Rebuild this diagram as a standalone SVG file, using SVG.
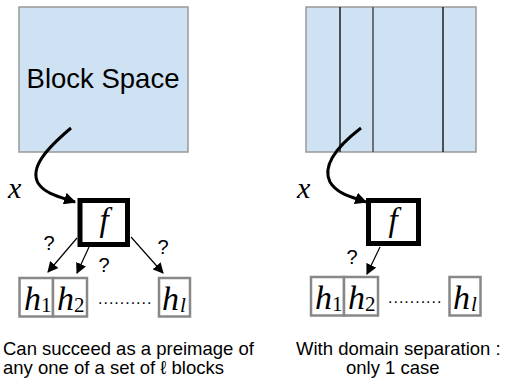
<svg xmlns="http://www.w3.org/2000/svg" width="508" height="380" viewBox="0 0 508 380">
  <style>
    .space { fill: #cfe2f3; stroke: #999999; stroke-width: 1.5; }
    .div { stroke: #000; stroke-width: 1.3; }
    .fbox { fill: #fff; stroke: #000; stroke-width: 5; }
    .hbox { fill: #fff; stroke: #888888; stroke-width: 2.5; }
    .curve { fill: none; stroke: #000; stroke-width: 3; }
    .thin { fill: none; stroke: #000; stroke-width: 1.2; }
    .serif { font-family: "Liberation Serif", "DejaVu Serif", serif; }
    .it { font-style: italic; }
    .sans { font-family: "Liberation Sans", "DejaVu Sans", sans-serif; }
  </style>
  <defs>
    <marker id="bigHead" viewBox="0 0 10 10" refX="9" refY="5" markerWidth="4" markerHeight="4" orient="auto" markerUnits="strokeWidth">
      <path d="M0,0 L10,5 L0,10 z" fill="#000"/>
    </marker>
    <marker id="smallHead" viewBox="0 0 10 10" refX="9" refY="5" markerWidth="9" markerHeight="9" orient="auto" markerUnits="strokeWidth">
      <path d="M0,0 L10,5 L0,10 z" fill="#000"/>
    </marker>
  </defs>

  <!-- left panel -->
  <g id="block-space-left">
    <rect class="space" x="19" y="7" width="169" height="145"/>
    <text class="sans" x="103" y="88" font-size="27.5" text-anchor="middle">Block Space</text>
  </g>
  <g id="x-left">
    <text class="serif it" x="8" y="198" font-size="30">x</text>
  </g>
  <g id="f-left">
    <rect class="fbox" x="80" y="200.5" width="47.5" height="44"/>
    <text class="serif it" x="104" y="231" font-size="33" text-anchor="middle">f</text>
  </g>
  <g id="h1-left">
    <rect class="hbox" x="19.5" y="278" width="33.5" height="38.5"/>
    <text class="serif it" x="24" y="310" font-size="34">h</text>
    <text class="serif" x="41" y="312" font-size="21">1</text>
  </g>
  <g id="h2-left">
    <rect class="hbox" x="53" y="278" width="34" height="38.5"/>
    <text class="serif it" x="57" y="310" font-size="34">h</text>
    <text class="serif" x="74" y="312" font-size="21">2</text>
  </g>
  <g id="dots-left"><text class="sans" x="98" y="304" font-size="16" letter-spacing="1">..........</text></g>
  <g id="hl-left">
    <rect class="hbox" x="159" y="278" width="31" height="38.5"/>
    <text class="serif it" x="162" y="310" font-size="34">h</text>
    <text class="serif it" x="180" y="312" font-size="21">l</text>
  </g>

  <!-- right panel -->
  <g id="block-space-right">
    <rect class="space" x="306" y="7" width="170" height="145"/>
    <line class="div" x1="340" y1="7" x2="340" y2="152"/>
    <line x1="373" y1="7" x2="373" y2="152" stroke="#555" stroke-width="1.6"/>
    <line class="div" x1="443" y1="7" x2="443" y2="152"/>
  </g>
  <g id="x-right">
    <text class="serif it" x="297" y="198" font-size="30">x</text>
  </g>
  <g id="f-right">
    <rect class="fbox" x="368.5" y="200.5" width="50" height="43"/>
    <text class="serif it" x="393" y="231" font-size="33" text-anchor="middle">f</text>
  </g>
  <g id="h1-right">
    <rect class="hbox" x="311" y="277" width="33" height="38.5"/>
    <text class="serif it" x="315" y="309" font-size="34">h</text>
    <text class="serif" x="332" y="311" font-size="21">1</text>
  </g>
  <g id="h2-right">
    <rect class="hbox" x="344" y="277" width="34" height="38.5"/>
    <text class="serif it" x="348" y="309" font-size="34">h</text>
    <text class="serif" x="365" y="311" font-size="21">2</text>
  </g>
  <g id="dots-right"><text class="sans" x="388" y="303" font-size="16" letter-spacing="1">..........</text></g>
  <g id="hl-right">
    <rect class="hbox" x="449.5" y="277" width="31" height="38.5"/>
    <text class="serif it" x="453" y="309" font-size="34">h</text>
    <text class="serif it" x="471" y="311" font-size="21">l</text>
  </g>

  <!-- connectors -->
  <g id="connectors">
    <path class="curve" d="M71,128 C45,150 30,168 38,183 C45,194 60,197 75,202" marker-end="url(#bigHead)"/>
    <path class="curve" d="M361,128 C335,148 322,166 330,182 C337,194 352,197 366,202" marker-end="url(#bigHead)"/>
    <line class="thin" x1="77" y1="238" x2="48" y2="272" marker-end="url(#smallHead)"/>
    <line class="thin" x1="89" y1="247" x2="77" y2="273" marker-end="url(#smallHead)"/>
    <line class="thin" x1="131" y1="237" x2="163" y2="273" marker-end="url(#smallHead)"/>
    <line class="thin" x1="380" y1="247" x2="367" y2="274" marker-end="url(#smallHead)"/>
    <text class="sans" x="49" y="250" font-size="20" text-anchor="middle">?</text>
    <text class="sans" x="104" y="272" font-size="20" text-anchor="middle">?</text>
    <text class="sans" x="163" y="254" font-size="20" text-anchor="middle">?</text>
    <text class="sans" x="352" y="264" font-size="20" text-anchor="middle">?</text>
  </g>

  <!-- captions -->
  <g id="caption-left">
    <text class="sans" x="3" y="355" font-size="18.5">Can succeed as a preimage of</text>
    <text class="sans" x="3" y="374" font-size="18.5">any one of a set of ℓ blocks</text>
  </g>
  <g id="caption-right">
    <text class="sans" x="296" y="355" font-size="18.5">With domain separation :</text>
    <text class="sans" x="346" y="374" font-size="18.5">only 1 case</text>
  </g>
</svg>
